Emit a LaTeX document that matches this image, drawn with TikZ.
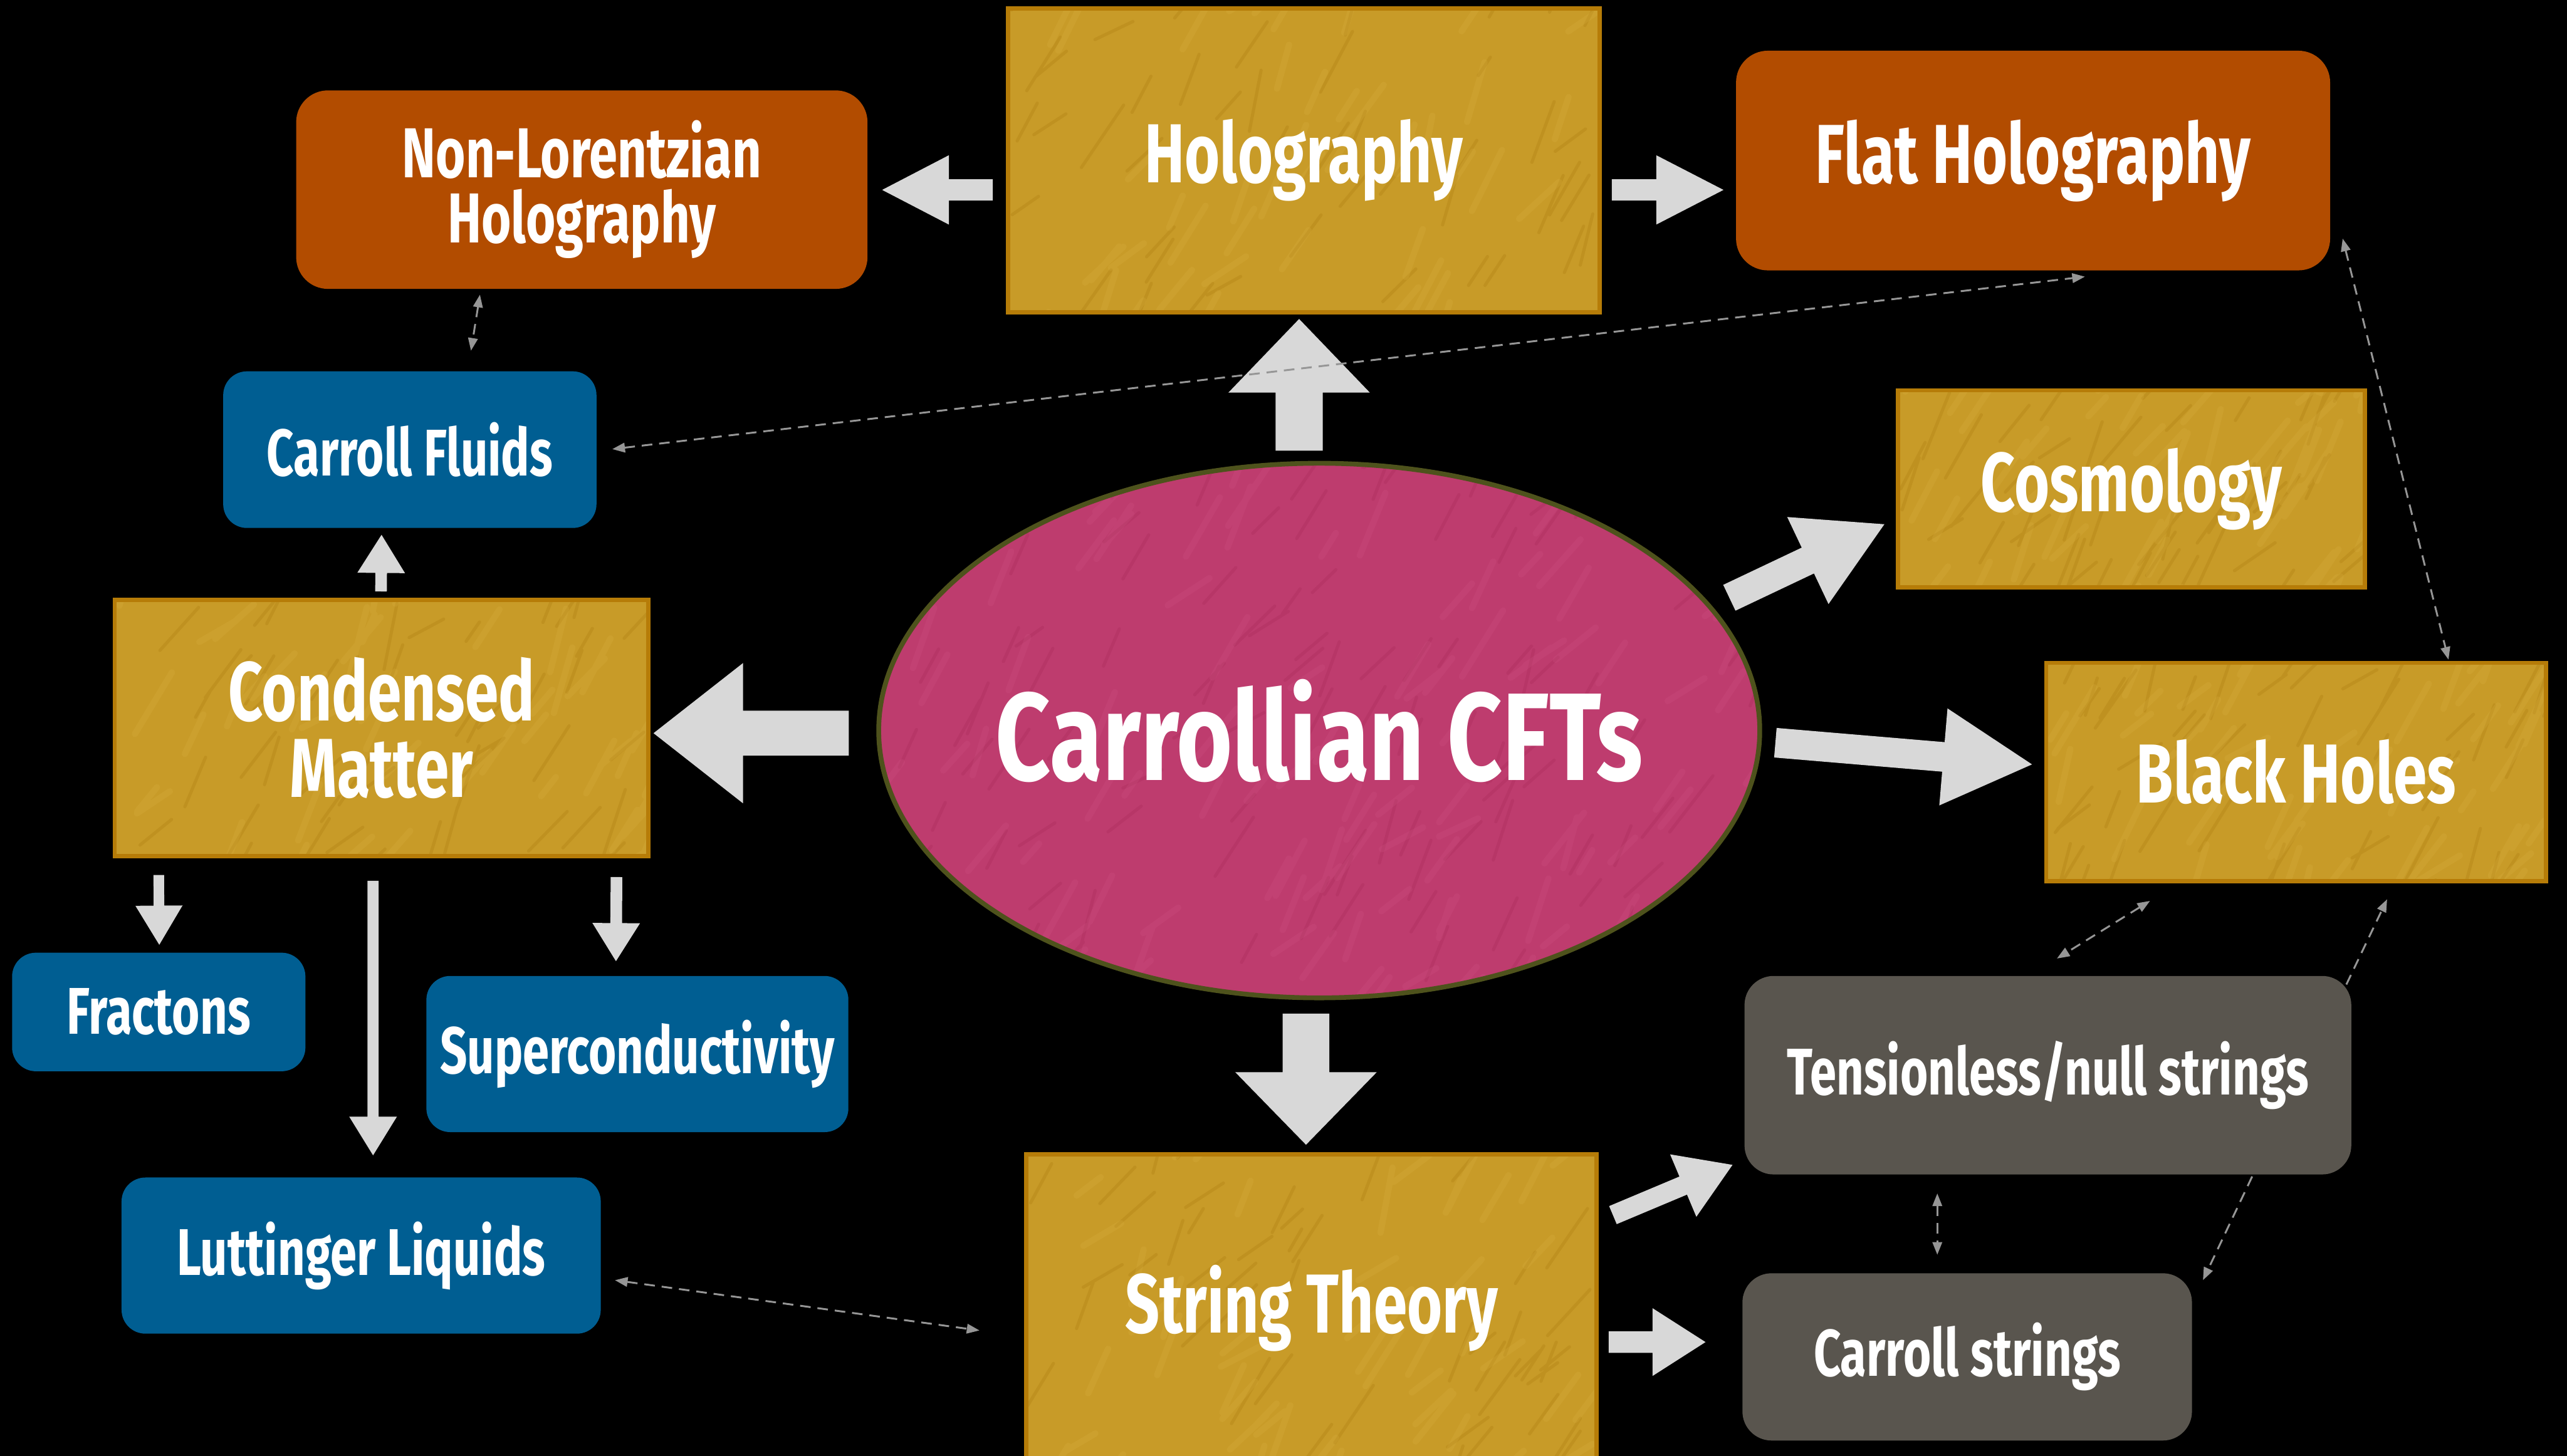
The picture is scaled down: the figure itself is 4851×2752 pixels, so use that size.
\documentclass[tikz,border=0pt]{standalone}
\usepackage{fontspec}
\setmainfont{Fira Sans}[FakeStretch=0.72]
\newfontfamily\bigfam{Fira Sans}[FakeStretch=0.77]
\usetikzlibrary{shapes.geometric,calc,arrows.meta}
\definecolor{gold}{RGB}{200,155,40}
\definecolor{golddark}{RGB}{168,118,12}
\definecolor{goldlight}{RGB}{220,178,68}
\definecolor{goldedge}{RGB}{182,124,8}
\definecolor{rust}{RGB}{178,76,0}
\definecolor{sea}{RGB}{0,94,146}
\definecolor{slate}{RGB}{89,85,78}
\definecolor{rose}{RGB}{190,60,110}
\definecolor{rosedark}{RGB}{165,38,86}
\definecolor{roselight}{RGB}{210,86,133}
\definecolor{rim}{RGB}{78,82,28}
\definecolor{arrowgray}{RGB}{216,216,216}
\definecolor{dashgray}{RGB}{150,150,150}
\newcommand\fntbig{\bigfam\fontsize{67}{67}\selectfont\bfseries}
\newcommand\fntlarge{\fontsize{45}{41}\selectfont\bfseries}
\newcommand\fntsmall{\fontsize{35.5}{35.5}\selectfont\bfseries}
\newcommand\fntnl{\fontsize{38}{35}\selectfont\bfseries}
\tikzset{
  texture/.style n args={3}{path picture={
    \foreach \tcol/\tw/\top in {#1/0.06cm/0.25,#2/0.12cm/0.22}{
      \draw[\tcol, line width=\tw, opacity=\top, line cap=round]
        let \p1=(path picture bounding box.south west), \p2=(path picture bounding box.north east) in
        foreach \k in {1,...,#3}{ ({\x1+rnd*(\x2-\x1)},{\y1-1cm+rnd*(\y2-\y1+1cm)}) -- ++(57:{0.4cm+1.1cm*rnd}) };
    }}},
  goldbox/.style={draw=goldedge, line width=0.08cm, fill=gold, texture={golddark}{goldlight}{50},
    text=white, font=\fntlarge, align=center, inner sep=0pt},
  rustbox/.style={fill=rust, rounded corners=0.6cm, text=white, font=\fntlarge, align=center, inner sep=0pt},
  seabox/.style={fill=sea, rounded corners=0.45cm, text=white, font=\fntsmall, align=center, inner sep=0pt},
  slatebox/.style={fill=slate, rounded corners=0.55cm, text=white, font=\fntsmall, align=center, inner sep=0pt},
  blockarrow/.style={fill=arrowgray},
  dashlink/.style={draw=dashgray, line width=0.035cm, dash pattern=on 0.2cm off 0.13cm},
  tipboth/.style={{Triangle[length=0.24cm,width=0.18cm]}-{Triangle[length=0.24cm,width=0.18cm]}},
  tipend/.style={-{Triangle[length=0.24cm,width=0.18cm]}},
}
\newcommand\barrow[5]{%
  \coordinate (bb) at ($(#2)!#5!(#1)$);
  \fill[blockarrow] ($(#1)!#3!90:(#2)$) -- ($(bb)!#3!90:(#2)$) -- ($(bb)!#4!90:(#2)$) -- (#2)
    -- ($(bb)!#4!-90:(#2)$) -- ($(bb)!#3!-90:(#2)$) -- ($(#1)!#3!-90:(#2)$) -- cycle;}
\begin{document}
\begin{tikzpicture}[x=0.01cm,y=-0.01cm]
\pgfmathsetseed{11}
\useasboundingbox (0,0) rectangle (4851,2752);
\fill[black] (0,0) rectangle (4851,2752);

% nodes
\node[goldbox, minimum width=11.18cm, minimum height=5.74cm] (holo) at (2464,303) {Holography};
\node[rustbox, minimum width=10.79cm, minimum height=3.75cm, font=\fntnl] (nonlor) at (1099.5,358.5) {Non-Lorentzian\\Holography};
\node[rustbox, minimum width=11.22cm, minimum height=4.15cm] (flat) at (3842,303.5) {Flat Holography};
\node[goldbox, minimum width=8.82cm, minimum height=3.72cm] (cosmo) at (4028,924) {Cosmology};
\node[seabox, minimum width=7.05cm, minimum height=2.96cm] (fluids) at (774.5,850) {Carroll Fluids};
\node[goldbox, minimum width=10.08cm, minimum height=4.84cm] (cond) at (721,1376) {Condensed\\Matter};
\node[ellipse, draw=rim, line width=0.09cm, fill=rose, texture={rosedark}{roselight}{120},
      minimum width=16.64cm, minimum height=10.10cm, inner sep=0pt, text=white, font=\fntbig] (ell) at (2493,1381) {\makebox[0pt]{Carrollian CFTs}};
\node[goldbox, minimum width=9.44cm, minimum height=4.13cm] (bh) at (4339,1459.5) {Black Holes};
\node[seabox, minimum width=5.54cm, minimum height=2.24cm] (frac) at (300,1913) {Fractons};
\node[seabox, minimum width=7.97cm, minimum height=2.95cm] (super) at (1204.5,1992.5) {Superconductivity};
\node[seabox, minimum width=9.05cm, minimum height=2.95cm] (lutt) at (682.5,2373.5) {Luttinger Liquids};
\node[goldbox, minimum width=10.77cm, minimum height=5.83cm] (string) at (2478.5,2473.5) {String Theory};
\node[slatebox, minimum width=11.46cm, minimum height=3.75cm] (tens) at (3870,2032.5) {Tensionless/null strings};
\node[slatebox, minimum width=8.49cm, minimum height=3.16cm] (cstr) at (3717.5,2565) {Carroll strings};

% block arrows
\coordinate (a1s) at (2455,852);  \coordinate (a1e) at (2455,603);
\barrow{a1s}{a1e}{0.445cm}{1.335cm}{1.39cm}
\coordinate (a2s) at (1876,359);  \coordinate (a2e) at (1667,359);
\barrow{a2s}{a2e}{0.2cm}{0.655cm}{1.26cm}
\coordinate (a3s) at (3046,359);  \coordinate (a3e) at (3257,359);
\barrow{a3s}{a3e}{0.2cm}{0.655cm}{1.27cm}
\coordinate (a4s) at (3268,1130); \coordinate (a4e) at (3561,991);
\barrow{a4s}{a4e}{0.27cm}{0.91cm}{1.6cm}
\coordinate (a5s) at (3355,1404); \coordinate (a5e) at (3840,1445);
\barrow{a5s}{a5e}{0.28cm}{0.92cm}{1.68cm}
\coordinate (a6s) at (1604,1386); \coordinate (a6e) at (1235,1386);
\barrow{a6s}{a6e}{0.425cm}{1.325cm}{1.69cm}
\coordinate (a7s) at (720,1118);  \coordinate (a7e) at (721,1011);
\barrow{a7s}{a7e}{0.11cm}{0.45cm}{0.72cm}
\coordinate (a8s) at (300,1654);  \coordinate (a8e) at (301,1786);
\barrow{a8s}{a8e}{0.10cm}{0.445cm}{0.74cm}
\coordinate (a9s) at (705,1665);  \coordinate (a9e) at (705,2184);
\barrow{a9s}{a9e}{0.105cm}{0.45cm}{0.73cm}
\coordinate (a10s) at (1165,1658); \coordinate (a10e) at (1164,1817);
\barrow{a10s}{a10e}{0.11cm}{0.45cm}{0.72cm}
\coordinate (a11s) at (2468,1916); \coordinate (a11e) at (2468,2164);
\barrow{a11s}{a11e}{0.44cm}{1.335cm}{1.37cm}
\coordinate (a12s) at (3048,2297); \coordinate (a12e) at (3274,2202);
\barrow{a12s}{a12e}{0.185cm}{0.64cm}{1.01cm}
\coordinate (a13s) at (3040,2537); \coordinate (a13e) at (3223,2537);
\barrow{a13s}{a13e}{0.205cm}{0.64cm}{1.0cm}

% dashed links
\coordinate (d1a) at (907,557);   \coordinate (d1b) at (890,663);
\coordinate (d2a) at (1157,849);  \coordinate (d2b) at (3940,523);
\coordinate (d3a) at (4427,451);  \coordinate (d3b) at (4627,1247);
\coordinate (d4a) at (4063,1703); \coordinate (d4b) at (3887,1812);
\coordinate (d5a) at (4434,1861); \coordinate (d5b) at (4511,1700);
\coordinate (d6a) at (3661,2256); \coordinate (d6b) at (3661,2372);
\coordinate (d7a) at (4256,2224); \coordinate (d7b) at (4163,2420);
\coordinate (d8a) at (1162,2420); \coordinate (d8b) at (1851,2515);
\draw[dashlink, tipboth] (d1a) -- (d1b);
\draw[dashlink, tipboth] (d2a) -- (d2b);
\draw[dashlink, tipboth] (d3a) -- (d3b);
\draw[dashlink, tipboth] (d4a) -- (d4b);
\draw[dashlink, tipend] (d5a) -- (d5b);
\draw[dashlink, tipboth] (d6a) -- (d6b);
\draw[dashlink, tipend] (d7a) -- (d7b);
\draw[dashlink, tipboth] (d8a) -- (d8b);
\end{tikzpicture}
\end{document}
